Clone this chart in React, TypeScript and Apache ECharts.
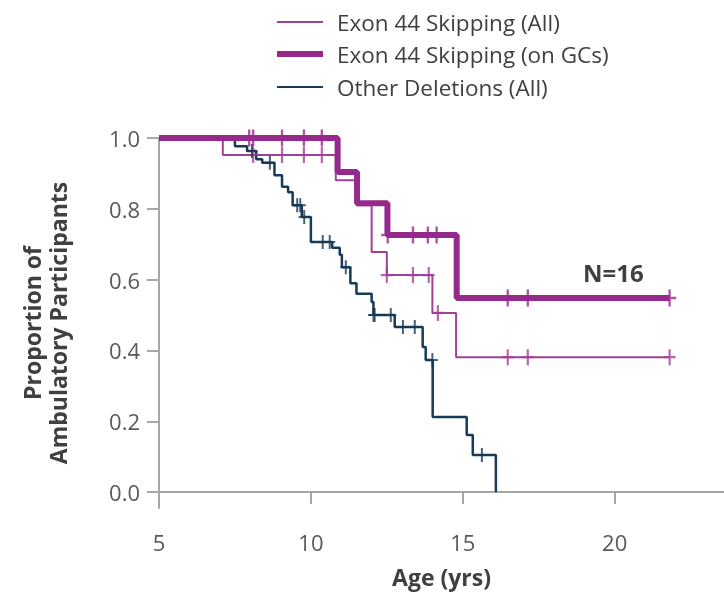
import React, { useEffect, useRef } from 'react';
import * as echarts from 'echarts';

const seriesNames = ['Exon 44 Skipping (All)', 'Exon 44 Skipping (on GCs)', 'Other Deletions (All)'];

// Exon 44 Skipping (All): step drop ages and survival after drop
const allAges = [5, 7.1, 10.82, 11.5, 12.0, 12.5, 14.0, 14.78, 21.81];
const allSurv = [1.0, 0.952, 0.881, 0.81, 0.678, 0.613, 0.506, 0.381, 0.381];
const allCensorAges = [8.1, 9.05, 9.77, 10.36, 12.5, 13.36, 13.88, 14.18, 16.48, 17.14, 21.81];
const allCensorSurv = [0.952, 0.952, 0.952, 0.952, 0.613, 0.613, 0.613, 0.506, 0.381, 0.381, 0.381];

// Exon 44 Skipping (on GCs)
const gcAges = [5, 10.88, 11.52, 12.52, 14.8, 21.81];
const gcSurv = [1.0, 0.904, 0.816, 0.726, 0.548, 0.548];
const gcCensorAges = [7.97, 8.1, 9.05, 9.77, 10.36, 12.53, 13.36, 13.85, 14.14, 16.48, 17.14, 21.81];
const gcCensorSurv = [1, 1, 1, 1, 1, 0.726, 0.726, 0.726, 0.726, 0.548, 0.548, 0.548];

// Other Deletions (All)
const otherAges = [5, 7.5, 7.9, 8.2, 8.4, 8.8, 9.05, 9.25, 9.4, 9.7, 10.0, 10.7, 10.95, 11.02, 11.3, 11.5, 12.0, 12.06, 12.76, 13.68, 13.78, 14.01, 15.13, 15.33, 16.09];
const otherSurv = [1.0, 0.977, 0.963, 0.94, 0.93, 0.895, 0.862, 0.847, 0.81, 0.777, 0.706, 0.69, 0.67, 0.635, 0.59, 0.56, 0.537, 0.5, 0.466, 0.41, 0.373, 0.212, 0.161, 0.105, 0.0];
const otherCensorAges = [8.06, 8.65, 9.55, 9.65, 9.78, 10.39, 10.62, 11.15, 12.06, 12.1, 12.63, 13.03, 13.42, 14.0, 15.63];
const otherCensorSurv = [0.963, 0.93, 0.81, 0.81, 0.777, 0.706, 0.706, 0.635, 0.5, 0.5, 0.5, 0.466, 0.466, 0.373, 0.105];

const xTicks = [5, 10, 15, 20];
const yTicks = [0, 0.2, 0.4, 0.6, 0.8, 1.0];
const annotation = 'N=16';

const pair = (xs: number[], ys: number[]) => xs.map((x, i) => [x, ys[i]]);

const PLUS = 'path://M41,0 H59 V43 H100 V57 H59 V100 H41 V57 H0 V43 H41 Z';

const thinColor = '#a0409a';
const thickColor = '#96298c';
const navyColor = '#163a57';
const axisColor = '#a6a6a6';
const font = 'Open Sans';

export default function App() {
  const ref = useRef<HTMLDivElement>(null);
  useEffect(() => {
    if (!ref.current) return;
    const chart = echarts.init(ref.current, undefined, { renderer: 'svg' });
    const legendBase = (name: string, top: number, h: number) => ({
      left: 277,
      top,
      padding: 0,
      itemWidth: 46,
      itemHeight: h,
      icon: 'rect',
      data: [name],
      selectedMode: false,
      textStyle: { fontSize: 22.5, color: '#404040', fontFamily: font, padding: [0, 0, 0, 9] },
    });
    chart.setOption({
      animation: false,
      textStyle: { fontFamily: font },
      grid: { left: 159, right: 0, top: 138, bottom: 98 },
      legend: [
        legendBase(seriesNames[0], 10.5, 2),
        legendBase(seriesNames[1], 42.5, 6),
        legendBase(seriesNames[2], 75.5, 2),
      ],
      graphic: [
        {
          type: 'text',
          left: 583,
          top: 260,
          style: { text: annotation, fontSize: 24, fontWeight: 'bold', fill: '#404040', fontFamily: font },
        },
      ],
      xAxis: {
        type: 'value',
        min: 5,
        max: 23.6,
        name: 'Age (yrs)',
        nameLocation: 'middle',
        nameGap: 57,
        nameTextStyle: { fontSize: 23, fontWeight: 'bold', color: '#404040', fontFamily: font },
        axisLine: { lineStyle: { color: axisColor, width: 2 } },
        axisTick: { show: true, length: 12, lineStyle: { color: axisColor, width: 2 }, customValues: xTicks },
        axisLabel: { customValues: xTicks, fontSize: 22, color: '#595959', margin: 23, fontFamily: font },
        splitLine: { show: false },
      },
      yAxis: {
        type: 'value',
        min: -0.045,
        max: 1,
        name: 'Proportion of\nAmbulatory Participants',
        nameLocation: 'middle',
        nameGap: 88,
        nameTextStyle: { fontSize: 23, fontWeight: 'bold', color: '#404040', fontFamily: font, lineHeight: 26 },
        axisLine: { show: true, lineStyle: { color: axisColor, width: 2 } },
        axisTick: { show: true, length: 12, lineStyle: { color: axisColor, width: 2 }, customValues: yTicks },
        axisLabel: {
          customValues: yTicks,
          fontSize: 22,
          color: '#595959',
          margin: 19,
          fontFamily: font,
          formatter: (v: number) => v.toFixed(1),
        },
        splitLine: { show: false },
      },
      series: [
        {
          name: seriesNames[0],
          type: 'line',
          step: 'end',
          data: pair(allAges, allSurv),
          showSymbol: false,
          symbol: 'none',
          lineStyle: { color: thinColor, width: 2 },
          itemStyle: { color: thinColor },
          z: 2,
        },
        {
          name: seriesNames[2],
          type: 'line',
          step: 'end',
          data: pair(otherAges, otherSurv),
          showSymbol: false,
          symbol: 'none',
          lineStyle: { color: navyColor, width: 2.5 },
          itemStyle: { color: navyColor },
          z: 3,
        },
        {
          name: seriesNames[1],
          type: 'line',
          step: 'end',
          data: pair(gcAges, gcSurv),
          showSymbol: false,
          symbol: 'none',
          lineStyle: { color: thickColor, width: 6 },
          itemStyle: { color: thickColor },
          z: 4,
        },
        {
          name: 'allCensor',
          type: 'scatter',
          data: pair(allCensorAges, allCensorSurv),
          symbol: PLUS,
          symbolSize: [12, 16],
          itemStyle: { color: thinColor },
          z: 5,
        },
        {
          name: 'otherCensor',
          type: 'scatter',
          data: pair(otherCensorAges, otherCensorSurv),
          symbol: PLUS,
          symbolSize: [11, 14],
          itemStyle: { color: navyColor },
          z: 5,
        },
        {
          name: 'gcCensor',
          type: 'scatter',
          data: pair(gcCensorAges, gcCensorSurv),
          symbol: PLUS,
          symbolSize: [13, 17],
          itemStyle: { color: thickColor },
          z: 6,
        },
      ],
    });
    return () => chart.dispose();
  }, []);
  return <div ref={ref} style={{ position: 'fixed', left: 0, top: 0, width: 724, height: 606 }} />;
}
